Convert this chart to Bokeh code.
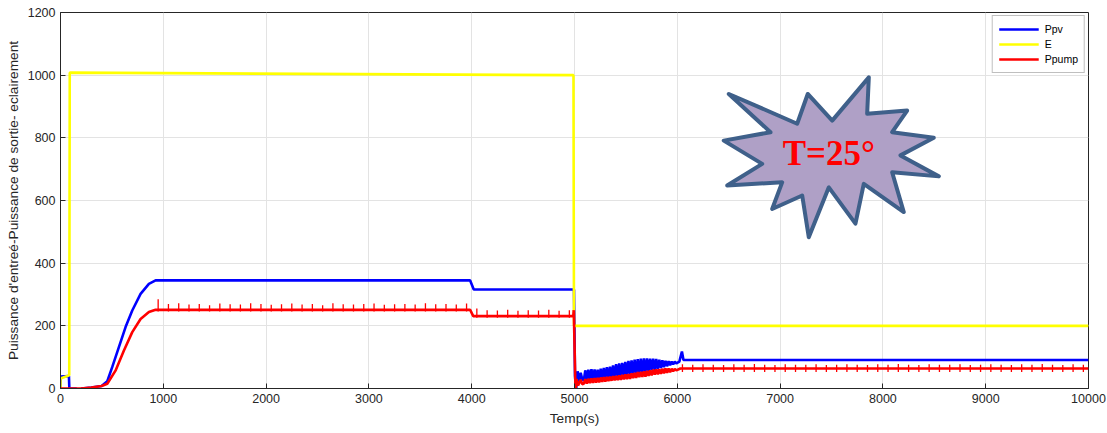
from bokeh.plotting import figure
from bokeh.models import FixedTicker, Legend, LegendItem, Range1d, Label
from bokeh.embed import file_html
from bokeh.resources import INLINE

# ---- series: time (s) and power / irradiance values ----
e_t = [0, 0, 85, 90, 4990, 4995, 10000]
e_v = [0, 32, 42, 1008, 1000, 200, 200]

ppv_t = [0, 3, 82, 86, 150, 195, 205, 300, 400, 455, 503, 568, 633, 698, 779, 860, 925, 3985, 4020, 4988, 4995,
         5005, 5015, 5030, 5045, 5060, 5075,
         5090, 5105, 5120, 5135, 5150, 5165, 5180, 5195, 5210, 5225, 5240, 5255, 5270, 5285, 5300, 5315,
         5330, 5345, 5360, 5375, 5390, 5405, 5420, 5435, 5450, 5465, 5480, 5495, 5510, 5525, 5540, 5555,
         5570, 5585, 5600, 5615, 5630, 5645, 5660, 5675, 5690, 5705, 5720, 5735, 5750, 5765, 5780, 5795,
         5810, 5825, 5840, 5855, 5870, 5885, 5900, 5915, 5930, 5945, 5960, 5975, 5990,
         6020, 6045, 6060, 10000]
ppv_v = [0, 38, 40, 0, 0, -12, 0, 3, 8, 23, 68, 132, 196, 249, 302, 334, 345, 345, 316, 316, 316,
         40, -5, 55, 20, 50, 30,
         25, 58, 27, 60, 28, 62, 29, 61, 30, 60, 31, 63, 32, 66, 33, 68,
         33, 70, 35, 74, 36, 78, 37, 80, 38, 82, 40, 85, 42, 88, 44, 90,
         45, 92, 47, 94, 48, 95, 50, 96, 52, 96, 55, 95, 58, 95, 60, 94,
         62, 92, 65, 90, 68, 88, 71, 87, 74, 86, 77, 86, 80,
         86, 118, 91, 91]

ppump_t = [0, 200, 300, 400, 455, 535, 617, 698, 779, 860, 925, 3985, 4015, 4988, 4993,
           5010, 5020, 5035, 5060, 5075,
           5090, 5105, 5120, 5135, 5150, 5165, 5180, 5195, 5210, 5225, 5240, 5255, 5270, 5285, 5300, 5315,
           5330, 5345, 5360, 5375, 5390, 5405, 5420, 5435, 5450, 5465, 5480, 5495, 5510, 5525, 5540, 5555,
           5570, 5585, 5600, 5615, 5630, 5645, 5660, 5675, 5690, 5705, 5720, 5735, 5750, 5765, 5780, 5795,
           5810, 5825, 5840, 5855, 5870, 5885, 5900, 5915, 5930, 5945, 5960, 5975, 5990,
           6030, 10000]
ppump_v = [0, 0, 3, 8, 15, 57, 121, 180, 222, 244, 251, 251, 231, 231, 250,
           -12, 30, 10, 28, 14,
           15, 30, 16, 31, 17, 32, 18, 33, 19, 34, 20, 35, 21, 36, 22, 37,
           24, 38, 25, 39, 26, 40, 27, 42, 28, 43, 29, 45, 30, 46, 31, 48,
           33, 50, 34, 52, 36, 53, 37, 55, 38, 56, 40, 58, 42, 60, 44, 61,
           45, 62, 47, 63, 48, 64, 50, 64, 52, 63, 55, 62, 58,
           64, 64]

# ripple spikes on the pump power (time, low, high)
spike_t = [950, 1050, 1150, 1250, 1350, 1450, 1550, 1650, 1750, 1850, 1950, 2050, 2150, 2250, 2350, 2450,
           2550, 2650, 2750, 2850, 2950, 3050, 3150, 3250, 3350, 3450, 3550, 3650, 3750, 3850, 3950,
           4050, 4150, 4250, 4350, 4450, 4550, 4650, 4750, 4850, 4950,
           6050, 6150, 6250, 6350, 6450, 6550, 6650, 6750, 6850, 6950, 7050, 7150, 7250, 7350, 7450, 7550,
           7650, 7750, 7850, 7950, 8050, 8150, 8250, 8350, 8450, 8550, 8650, 8750, 8850, 8950, 9050, 9150,
           9250, 9350, 9450, 9550, 9650, 9750, 9850, 9950]
spike_hi = [285, 270, 272, 268, 270, 266, 271, 269, 268, 272, 270, 267, 269, 271, 268, 270,
            266, 272, 269, 268, 270, 271, 267, 269, 270, 268, 272, 269, 270, 268, 271,
            255, 250, 249, 251, 248, 250, 249, 251, 248, 250,
            77, 76, 77, 76, 75, 77, 76, 78, 76, 75, 77, 76, 76, 77, 75, 76,
            77, 76, 75, 77, 76, 78, 76, 75, 77, 76, 76, 77, 75, 76, 77, 76,
            75, 77, 76, 78, 76, 75, 77, 76]
spike_lo = [246, 246, 246, 246, 246, 246, 246, 246, 246, 246, 246, 246, 246, 246, 246, 246,
            246, 246, 246, 246, 246, 246, 246, 246, 246, 246, 246, 246, 246, 246, 246,
            226, 226, 226, 226, 226, 226, 226, 226, 226, 226,
            53, 53, 53, 53, 53, 53, 53, 53, 53, 53, 53, 53, 53, 53, 53, 53,
            53, 53, 53, 53, 53, 53, 53, 53, 53, 53, 53, 53, 53, 53, 53, 53,
            53, 53, 53, 53, 53, 53, 53, 53]

x_ticks = [0, 1000, 2000, 3000, 4000, 5000, 6000, 7000, 8000, 9000, 10000]
y_ticks = [0, 200, 400, 600, 800, 1000, 1200]

# burst callout outline (time, power units)
burst_x = [6501, 7166, 7269, 7507, 7863, 7847, 8236, 8090, 8495, 8171, 8544, 8090,
           8203, 7814, 7733, 7474, 7279, 7215, 6923, 7020, 6485, 6826, 6452, 6907]
burst_y = [940, 845, 940, 855, 993, 877, 887, 818, 800, 744, 677, 690,
           563, 653, 526, 642, 483, 616, 573, 658, 648, 717, 791, 818]

FONT = "Liberation Sans"
DARK = "#262626"

p = figure(width=1107, height=433, output_backend="svg", toolbar_location=None,
           x_range=Range1d(0, 10000), y_range=Range1d(0, 1200),
           min_border_left=60, min_border_right=19, min_border_top=12, min_border_bottom=45,
           background_fill_color="white", border_fill_color="white")

p.outline_line_color = DARK
p.outline_line_width = 1

for ax in (p.xaxis, p.yaxis):
    ax.axis_line_color = DARK
    ax.major_tick_in = 5
    ax.major_tick_out = 0
    ax.major_tick_line_color = DARK
    ax.minor_tick_line_color = None
    ax.major_label_text_font = FONT
    ax.major_label_text_font_size = "12.5px"
    ax.major_label_text_color = DARK
    ax.axis_label_text_font = FONT
    ax.axis_label_text_font_size = "13.7px"
    ax.axis_label_text_font_style = "normal"
    ax.axis_label_text_color = DARK

p.xaxis.ticker = FixedTicker(ticks=x_ticks)
p.yaxis.ticker = FixedTicker(ticks=y_ticks)
p.xaxis.major_label_standoff = 5
p.yaxis.major_label_standoff = 5
p.xaxis.axis_label = "Temp(s)"
p.yaxis.axis_label = "Puissance d'entreé-Puissance de sortie- eclairement"
p.xaxis.axis_label_standoff = 5
p.yaxis.axis_label_standoff = 4

p.xgrid.grid_line_color = "#E3E3E3"
p.ygrid.grid_line_color = "#E3E3E3"
p.xgrid.ticker = FixedTicker(ticks=x_ticks)
p.ygrid.ticker = FixedTicker(ticks=y_ticks)

r_pv = p.line(ppv_t, ppv_v, line_color="#0000FF", line_width=2.6)
r_e = p.line(e_t, e_v, line_color="#FFFF00", line_width=2.6)
r_pump = p.line(ppump_t, ppump_v, line_color="#FF0000", line_width=2.6)
p.segment(x0=spike_t, y0=spike_lo, x1=spike_t, y1=spike_hi, line_color="#FF0000", line_width=1.3)

# burst callout with temperature note
p.patch(burst_x, burst_y, fill_color="#AFA0C6", line_color="#3F608A", line_width=4, line_join="round")
p.add_layout(Label(x=7474, y=749, text="T=25°", text_align="center", text_baseline="middle",
                   text_font="Liberation Serif", text_font_style="bold", text_font_size="35px",
                   text_color="#FF0000"))

legend = Legend(items=[LegendItem(label="Ppv", renderers=[r_pv]),
                       LegendItem(label="E", renderers=[r_e]),
                       LegendItem(label="Ppump", renderers=[r_pump])],
                location="top_right", margin=3, padding=6, spacing=1,
                glyph_width=40, glyph_height=14, label_height=14, label_standoff=6,
                label_text_font=FONT, label_text_font_size="10.5px", label_text_color="black",
                border_line_color="#7F7F7F", border_line_width=1,
                background_fill_color="white", background_fill_alpha=1)
p.add_layout(legend)

open("out.html", "w").write(file_html(p, INLINE))
